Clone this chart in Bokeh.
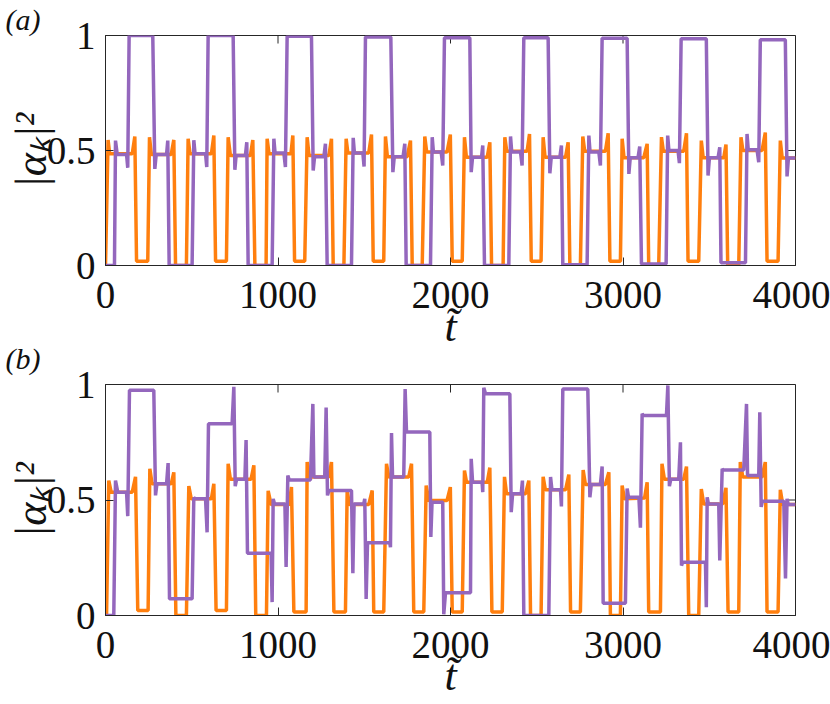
import math
from bokeh.plotting import figure
from bokeh.models import FixedTicker, Range1d
from bokeh.layouts import column
from bokeh.embed import file_html
from bokeh.resources import INLINE

# ---------------- data ----------------
x_ticks = [0, 1000, 2000, 3000, 4000]
x_tick_labels = ["0", "1000", "2000", "3000", "4000"]
y_ticks = [0, 0.5, 1]
y_tick_labels = ["0", "0.5", "1"]

# panel (a), purple mode
a_purple_t = [0, 52, 58, 68, 122, 129, 137, 274, 286, 294, 354, 361, 369, 502, 512, 519, 580, 587,
              595, 740, 750, 757, 811, 819, 827, 966, 976, 983, 1034, 1043, 1053, 1194, 1204, 1212,
              1266, 1275, 1285, 1426, 1436, 1443, 1492, 1499, 1507, 1654, 1666, 1674, 1725, 1735,
              1743, 1884, 1894, 1901, 1946, 1955, 1965, 2112, 2120, 2128, 2180, 2187, 2197, 2338,
              2348, 2355, 2406, 2415, 2425, 2566, 2576, 2584, 2634, 2643, 2651, 2792, 2802, 2809,
              2860, 2869, 2879, 3024, 3034, 3042, 3087, 3097, 3107, 3250, 3259, 3266, 3319, 3327,
              3337, 3483, 3493, 3501, 3551, 3561, 3568, 3710, 3719, 3726, 3777, 3787, 3796, 3941,
              3951, 3959, 4000]
a_purple_y = [0.0, 0.0, 0.543, 0.483, 0.483, 0.425, 1.0, 1.0, 0.42, 0.483, 0.483, 0.543, 0.0, 0.0,
              0.545, 0.486, 0.486, 0.428, 1.0, 1.0, 0.416, 0.478, 0.478, 0.536, 0.0, 0.0, 0.551,
              0.489, 0.489, 0.428, 0.997, 0.997, 0.413, 0.473, 0.473, 0.529, 0.0, 0.0, 0.555, 0.489,
              0.489, 0.430, 0.993, 0.993, 0.406, 0.473, 0.473, 0.529, 0.0, 0.0, 0.558, 0.493, 0.493,
              0.435, 0.990, 0.990, 0.406, 0.471, 0.471, 0.522, 0.0, 0.0, 0.561, 0.493, 0.493, 0.435,
              0.990, 0.990, 0.401, 0.471, 0.471, 0.522, 0.003, 0.003, 0.565, 0.493, 0.493, 0.435,
              0.988, 0.988, 0.398, 0.468, 0.468, 0.517, 0.007, 0.007, 0.565, 0.500, 0.500, 0.445,
              0.986, 0.986, 0.391, 0.468, 0.468, 0.514, 0.012, 0.012, 0.572, 0.503, 0.503, 0.449,
              0.981, 0.981, 0.387, 0.467, 0.467]

# panel (a), orange mode
a_orange_t = [0, 15, 24, 155, 170, 180, 245, 255, 266, 381, 396, 406, 469, 479, 490, 614, 628, 638,
              701, 711, 724, 840, 854, 866, 931, 937, 948, 1075, 1086, 1096, 1155, 1169, 1180, 1295,
              1310, 1320, 1382, 1395, 1405, 1526, 1542, 1552, 1613, 1623, 1634, 1749, 1768, 1778,
              1836, 1851, 1862, 1980, 1999, 2010, 2068, 2081, 2092, 2213, 2228, 2238, 2305, 2315,
              2326, 2444, 2458, 2468, 2525, 2537, 2548, 2667, 2682, 2692, 2753, 2767, 2778, 2898,
              2914, 2924, 2985, 2995, 3006, 3120, 3140, 3149, 3207, 3223, 3234, 3352, 3368, 3377,
              3439, 3454, 3465, 3584, 3597, 3607, 3671, 3684, 3695, 3806, 3825, 3835, 3899, 3912,
              3923, 4000]
a_orange_y = [0.0, 0.546, 0.486, 0.486, 0.561, 0.019, 0.019, 0.558, 0.483, 0.483, 0.546, 0.0, 0.0,
              0.551, 0.486, 0.486, 0.565, 0.019, 0.019, 0.558, 0.478, 0.478, 0.546, 0.0, 0.0, 0.551,
              0.486, 0.486, 0.565, 0.019, 0.019, 0.558, 0.478, 0.478, 0.551, 0.0, 0.0, 0.551, 0.489,
              0.489, 0.569, 0.019, 0.019, 0.561, 0.473, 0.473, 0.543, 0.0, 0.0, 0.561, 0.493, 0.493,
              0.569, 0.019, 0.019, 0.558, 0.471, 0.471, 0.536, 0.0, 0.0, 0.558, 0.497, 0.497, 0.572,
              0.019, 0.019, 0.558, 0.471, 0.471, 0.536, 0.0, 0.0, 0.561, 0.497, 0.497, 0.575, 0.019,
              0.019, 0.551, 0.468, 0.468, 0.529, 0.0, 0.0, 0.558, 0.497, 0.497, 0.575, 0.019, 0.019,
              0.543, 0.468, 0.468, 0.526, 0.0, 0.0, 0.558, 0.500, 0.500, 0.578, 0.019, 0.019, 0.543,
              0.467, 0.467]

# panel (b), purple mode
b_purple_t = [0, 48, 58, 71, 122, 129, 139, 280, 290, 298, 354, 363, 371, 502, 512, 520, 580, 589,
              597, 734, 744, 752, 760, 808, 815, 823, 960, 966, 972, 980, 1040, 1047, 1057, 1065,
              1188, 1202, 1208, 1271, 1279, 1287, 1295, 1426, 1434, 1441, 1497, 1503, 1511, 1519,
              1648, 1652, 1658, 1664, 1729, 1737, 1745, 1880, 1886, 1893, 1955, 1961, 1971, 2116,
              2120, 2128, 2183, 2187, 2193, 2203, 2344, 2352, 2360, 2410, 2417, 2425, 2570, 2580,
              2588, 2638, 2643, 2651, 2796, 2808, 2816, 2869, 2879, 2885, 3014, 3024, 3032, 3092,
              3101, 3111, 3118, 3252, 3260, 3269, 3277, 3323, 3333, 3339, 3346, 3478, 3483, 3488,
              3495, 3555, 3561, 3575, 3580, 3700, 3716, 3722, 3787, 3793, 3801, 3808, 3932, 3942,
              3951, 3958, 4000]
b_purple_y = [0.0, 0.0, 0.584, 0.534, 0.534, 0.43, 0.975, 0.975, 0.52, 0.57, 0.57, 0.66, 0.072,
              0.072, 0.51, 0.505, 0.505, 0.36, 0.83, 0.83, 0.99, 0.56, 0.59, 0.59, 0.76, 0.27, 0.27,
              0.058, 0.505, 0.483, 0.483, 0.21, 0.606, 0.587, 0.587, 0.916, 0.60, 0.60, 0.90, 0.52,
              0.541, 0.541, 0.183, 0.483, 0.483, 0.505, 0.072, 0.315, 0.315, 0.296, 0.79, 0.60, 0.60,
              0.98, 0.794, 0.794, 0.34, 0.49, 0.49, 0.005, 0.098, 0.098, 0.678, 0.577, 0.577, 0.534,
              0.986, 0.96, 0.96, 0.447, 0.527, 0.527, 0.584, 0.0, 0.0, 0.60, 0.544, 0.544, 0.472,
              0.98, 0.98, 0.512, 0.567, 0.567, 0.645, 0.053, 0.053, 0.55, 0.512, 0.512, 0.38, 0.873,
              0.866, 0.866, 0.996, 0.56, 0.59, 0.59, 0.75, 0.216, 0.231, 0.231, 0.036, 0.512, 0.483,
              0.483, 0.238, 0.635, 0.63, 0.63, 0.916, 0.606, 0.606, 0.88, 0.47, 0.495, 0.495, 0.16,
              0.505, 0.48, 0.48]

# panel (b), orange mode
b_orange_t = [0, 6, 19, 33, 155, 174, 187, 247, 257, 270, 381, 396, 408, 469, 483, 497, 614, 628,
              641, 701, 711, 724, 844, 860, 871, 933, 943, 960, 1065, 1078, 1092, 1163, 1169, 1182,
              1295, 1310, 1324, 1391, 1401, 1414, 1526, 1546, 1555, 1613, 1629, 1642, 1758, 1774,
              1787, 1845, 1859, 1874, 1980, 1999, 2010, 2068, 2081, 2093, 2213, 2228, 2240, 2300,
              2313, 2325, 2435, 2454, 2464, 2525, 2537, 2550, 2667, 2686, 2696, 2753, 2769, 2782,
              2898, 2918, 2927, 2985, 2995, 3008, 3125, 3140, 3149, 3217, 3226, 3240, 3352, 3368,
              3381, 3439, 3454, 3468, 3578, 3597, 3609, 3671, 3680, 3694, 3806, 3825, 3835, 3899,
              3912, 3926, 4000]
b_orange_y = [0.0, 0.0, 0.584, 0.534, 0.534, 0.60, 0.022, 0.022, 0.635, 0.57, 0.57, 0.62, 0.0, 0.0,
              0.56, 0.505, 0.505, 0.57, 0.022, 0.022, 0.657, 0.59, 0.59, 0.65, 0.0, 0.0, 0.54, 0.48,
              0.48, 0.556, 0.015, 0.015, 0.664, 0.60, 0.60, 0.664, 0.015, 0.015, 0.541, 0.48, 0.48,
              0.541, 0.015, 0.015, 0.657, 0.60, 0.60, 0.657, 0.015, 0.015, 0.563, 0.498, 0.498,
              0.556, 0.015, 0.015, 0.628, 0.577, 0.577, 0.64, 0.015, 0.015, 0.60, 0.527, 0.527,
              0.584, 0.0, 0.0, 0.60, 0.544, 0.544, 0.61, 0.015, 0.015, 0.63, 0.567, 0.567, 0.62, 0.0,
              0.0, 0.563, 0.505, 0.509, 0.577, 0.015, 0.015, 0.657, 0.59, 0.59, 0.645, 0.0, 0.0,
              0.548, 0.483, 0.483, 0.553, 0.015, 0.015, 0.664, 0.60, 0.60, 0.664, 0.015, 0.015,
              0.544, 0.48, 0.48]

PURPLE = "#9467bd"
ORANGE = "#ff7f0e"
AX = "#262626"
TXT = "#111111"
SERIF = "Liberation Serif"
TICK_FS = "39px"

X0, X1 = 0, 4000
Y0, Y1 = 0, 1
FRAME_W = 690


def make_panel(tag, tag_standoff, t1, y1, t2, y2, frame_h, top, bottom, xlab_standoff):
    p = figure(frame_width=FRAME_W, frame_height=frame_h,
               x_range=Range1d(X0, X1), y_range=Range1d(Y0, Y1),
               output_backend="svg", toolbar_location=None,
               min_border_left=105, min_border_right=35,
               min_border_top=top, min_border_bottom=bottom)
    p.grid.visible = False
    p.outline_line_color = AX
    p.outline_line_width = 1
    p.background_fill_color = "white"
    p.border_fill_alpha = 0.0

    # panel tag as a left-aligned title shifted into the left margin
    p.title.text = tag
    p.title.align = "left"
    p.title.offset = -100
    p.title.text_font = SERIF
    p.title.text_font_style = "italic"
    p.title.text_font_size = "30px"
    p.title.text_color = TXT
    p.title.standoff = tag_standoff

    for ax in p.xaxis + p.yaxis:
        ax.major_tick_in = 8
        ax.major_tick_out = 0
        ax.minor_tick_line_color = None
        ax.axis_line_color = AX
        ax.major_tick_line_color = AX
        ax.major_label_text_font = SERIF
        ax.major_label_text_font_size = TICK_FS
        ax.major_label_text_color = TXT
        ax.axis_label_text_font = SERIF
        ax.axis_label_text_font_style = "italic"
        ax.axis_label_text_color = TXT
    p.xaxis.ticker = FixedTicker(ticks=x_ticks)
    p.xaxis.major_label_overrides = {t: s for t, s in zip(x_ticks, x_tick_labels)}
    p.xaxis.major_label_standoff = 16
    p.xaxis.axis_label = "t\u0303"
    p.xaxis.axis_label_text_font_size = "44px"
    p.xaxis.axis_label_standoff = xlab_standoff

    p.yaxis.ticker = FixedTicker(ticks=y_ticks)
    p.yaxis.major_label_overrides = {t: s for t, s in zip(y_ticks, y_tick_labels)}
    p.yaxis.major_label_standoff = 10
    p.yaxis.axis_label = "|\u03b1\u2096|\u00b2"
    p.yaxis.axis_label_text_font_size = "44px"
    p.yaxis.axis_label_standoff = -12

    # mirrored inward ticks on the top and right edges of the box
    tick_dy = 8.0 / frame_h * (Y1 - Y0)
    tick_dx = 8.0 / FRAME_W * (X1 - X0)
    p.segment(x0=x_ticks, y0=[Y1] * len(x_ticks), x1=x_ticks, y1=[Y1 - tick_dy] * len(x_ticks),
              line_color=AX, line_width=1)
    p.segment(x0=[X1] * len(y_ticks), y0=y_ticks, x1=[X1 - tick_dx] * len(y_ticks), y1=y_ticks,
              line_color=AX, line_width=1)

    p.line(t2, y2, line_color=ORANGE, line_width=3.5)
    p.line(t1, y1, line_color=PURPLE, line_width=3.5)
    return p


pa = make_panel("(a)", -1, a_purple_t, a_purple_y, a_orange_t, a_orange_y,
                frame_h=230, top=35, bottom=110, xlab_standoff=-9)
pb = make_panel("(b)", 19, b_purple_t, b_purple_y, b_orange_t, b_orange_y,
                frame_h=231, top=56, bottom=85, xlab_standoff=-10)
# let the lower panel's (transparent) top margin overlap the upper panel's bottom margin
pb.margin = (-47, 0, 0, 0)

layout = column(pa, pb, spacing=0)
open("out.html", "w").write(file_html(layout, INLINE))
